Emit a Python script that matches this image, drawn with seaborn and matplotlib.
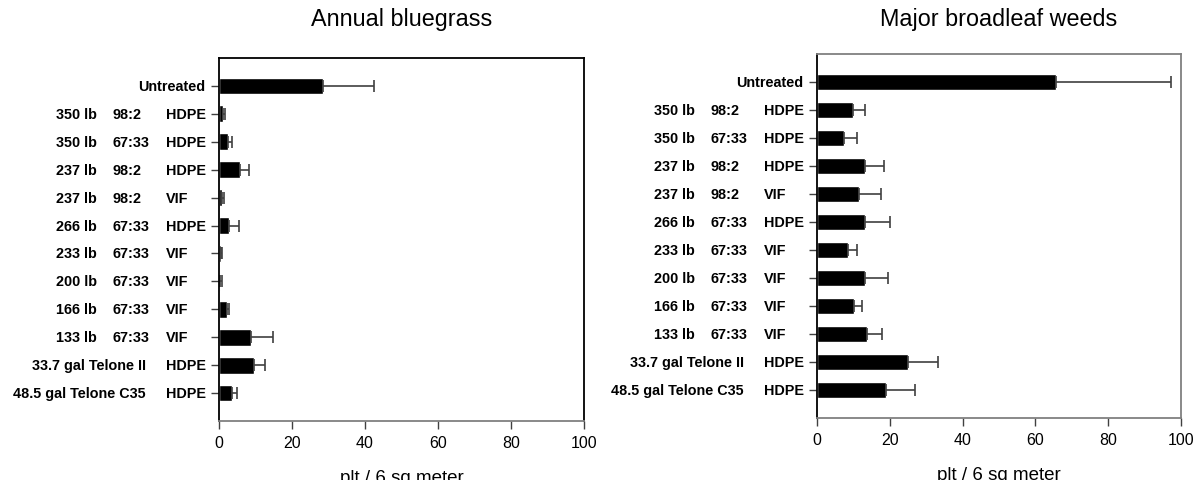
import matplotlib
matplotlib.use('Agg')
import matplotlib.pyplot as plt
import matplotlib.transforms as mtransforms
import seaborn as sns
import numpy as np
import pandas as pd

sns.set_style('white')
plt.rcParams['font.family'] = ['Liberation Sans', 'DejaVu Sans']
plt.rcParams['text.color'] = 'black'
plt.rcParams['xtick.color'] = 'black'
plt.rcParams['axes.labelcolor'] = 'black'

# label columns
rates = ['Untreated', '350 lb', '350 lb', '237 lb', '237 lb', '266 lb', '233 lb',
         '200 lb', '166 lb', '133 lb', '33.7 gal Telone II', '48.5 gal Telone C35']
ratios = ['', '98:2', '67:33', '98:2', '98:2', '67:33', '67:33',
          '67:33', '67:33', '67:33', '', '']
films = ['', 'HDPE', 'HDPE', 'HDPE', 'VIF', 'HDPE', 'VIF',
         'VIF', 'VIF', 'VIF', 'HDPE', 'HDPE']

# plt / 6 sq meter, mean and standard error
bluegrass = [28.6, 1.2, 2.4, 5.7, 0.8, 2.8, 0.5, 0.3, 2.1, 8.9, 9.5, 3.5]
bluegrass_se = [13.9, 0.4, 1.3, 2.5, 0.6, 2.8, 0.2, 0.4, 0.7, 5.8, 3.2, 1.5]
broadleaf = [65.8, 9.9, 7.3, 13.2, 11.6, 13.2, 8.4, 13.2, 10.1, 13.7, 24.9, 18.9]
broadleaf_se = [31.5, 3.3, 3.8, 5.2, 5.9, 6.8, 2.6, 6.4, 2.4, 4.1, 8.4, 7.9]

titles = ['Annual bluegrass', 'Major broadleaf weeds']
xticks = [0, 20, 40, 60, 80, 100]

keys = [' '.join(p for p in (r, q, f) if p) for r, q, f in zip(rates, ratios, films)]

fig = plt.figure(figsize=(11.96, 4.81), dpi=100)
ax1 = fig.add_axes([0.1831, 0.1227, 0.3052, 0.7547])
ax2 = fig.add_axes([0.6831, 0.1289, 0.3043, 0.7568])

panels = [(ax1, bluegrass, bluegrass_se, 'black', 24),
          (ax2, broadleaf, broadleaf_se, '#808080', 21)]

for (ax, vals, se, edge, tpad), title in zip(panels, titles):
    df = pd.DataFrame({'key': keys, 'val': vals})
    sns.barplot(data=df, x='val', y='key', order=keys, color='black',
                width=0.6, orient='h', ax=ax, saturation=1)
    pos = np.arange(len(keys))
    ax.errorbar(vals, pos, xerr=[np.zeros(len(se)), se], fmt='none',
                ecolor='#404040', elinewidth=1.2, capsize=4, capthick=1.2)
    ax.set_xlim(0, 100)
    ax.set_ylim(len(keys), -1)
    ax.set_xticks(xticks)
    ax.set_xticklabels([str(t) for t in xticks], fontsize=11.5)
    ax.set_yticks(pos)
    ax.set_yticklabels([''] * len(keys))
    ax.tick_params(axis='both', direction='out', length=6, width=1,
                   color='#404040', left=True, bottom=True)
    ax.tick_params(axis='x', pad=4)
    ax.set_ylabel('')
    ax.set_xlabel('plt / 6 sq meter', fontsize=13.5, labelpad=14)
    ax.set_title(title, fontsize=16.8, pad=tpad)
    for s in ['top', 'right']:
        ax.spines[s].set_color(edge)
    ax.spines['bottom'].set_color('#808080')
    ax.spines['left'].set_color('black')
    for s in ax.spines.values():
        s.set_linewidth(1.3)

    # multi-column category labels
    base = ax.get_yaxis_transform()
    for i, (r, q, f) in enumerate(zip(rates, ratios, films)):
        kw = dict(fontsize=10.4, fontweight='bold', va='center')
        if not q and not f:
            tr = mtransforms.offset_copy(base, fig=fig, x=-14, y=0, units='dots')
            ax.text(0, i, r, transform=tr, ha='right', **kw)
            continue
        if q:
            tr = mtransforms.offset_copy(base, fig=fig, x=-122, y=0, units='dots')
            ax.text(0, i, r, transform=tr, ha='right', **kw)
            tr = mtransforms.offset_copy(base, fig=fig, x=-106, y=0, units='dots')
            ax.text(0, i, q, transform=tr, ha='left', **kw)
        else:
            tr = mtransforms.offset_copy(base, fig=fig, x=-73, y=0, units='dots')
            ax.text(0, i, r, transform=tr, ha='right', **kw)
        tr = mtransforms.offset_copy(base, fig=fig, x=-53, y=0, units='dots')
        ax.text(0, i, f, transform=tr, ha='left', **kw)

fig.savefig('out.png', dpi=100)
